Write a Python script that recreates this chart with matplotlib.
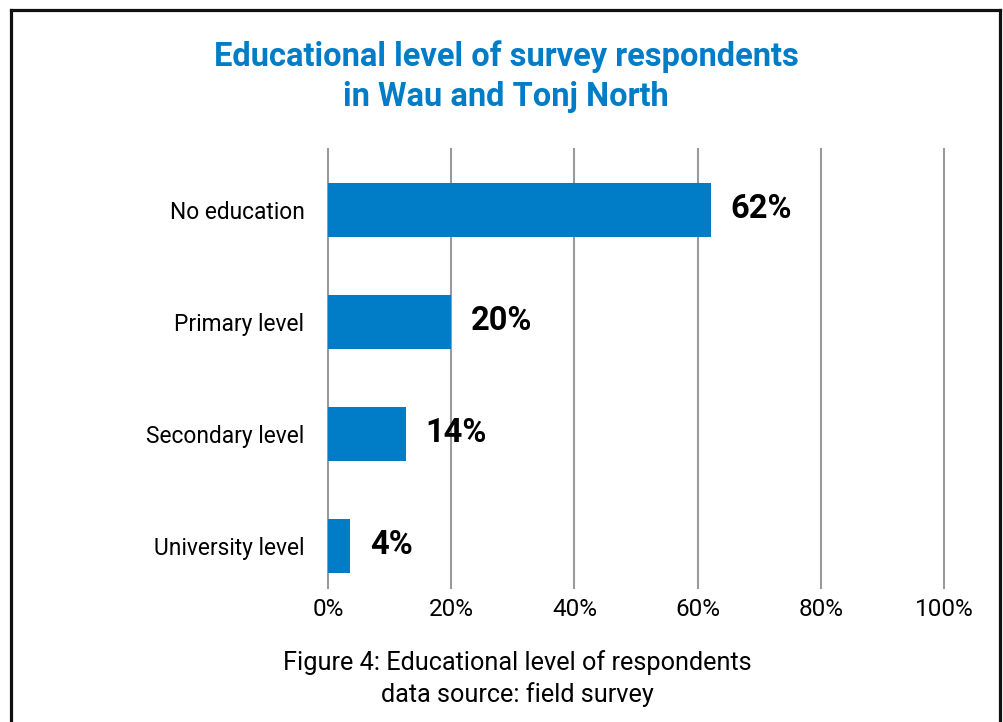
#!/usr/bin/env python3
"""Barra horizontal: nivel educativo de los encuestados (Wau y Tonj North)."""

import matplotlib
matplotlib.use('Agg')
import matplotlib.pyplot as plt
from matplotlib.lines import Line2D

# datos
categories = ['No education', 'Primary level', 'Secondary level', 'University level']
values = [62.2, 20.0, 12.7, 3.6]          # longitud de barra
value_labels = ['62%', '20%', '14%', '4%']  # etiquetas impresas
x_ticks = [0, 20, 40, 60, 80, 100]
x_tick_labels = ['0%', '20%', '40%', '60%', '80%', '100%']

BLUE = '#007dc6'
GRID = '#9a9a9a'

plt.rcParams['font.family'] = ['Roboto', 'DejaVu Sans']

fig = plt.figure(figsize=(10.04, 7.22), dpi=100)
ax = fig.add_axes([0.3267, 0.1856, 0.6135, 0.6080])

ypos = list(range(len(categories)))
ax.barh(ypos, values, height=0.49, color=BLUE, zorder=3)

for y, v, lab in zip(ypos, values, value_labels):
    ax.annotate(lab, (v, y), xytext=(14, 1), textcoords='offset points',
                ha='left', va='center', fontsize=23.5, fontweight='bold',
                color='black', zorder=4)

ax.set_xlim(0, 100)
ax.set_ylim(3.375, -0.545)
ax.set_xticks(x_ticks)
ax.set_xticklabels(x_tick_labels, fontsize=17.5)
ax.set_yticks(ypos)
ax.set_yticklabels(categories, fontsize=16.4)
ax.tick_params(axis='both', length=0, colors='black')
ax.tick_params(axis='x', pad=7)
ax.tick_params(axis='y', pad=17)
ax.xaxis.grid(True, color=GRID, linewidth=1.5, zorder=0)
ax.set_axisbelow(True)
for gl in ax.get_xgridlines():
    gl.set_clip_on(False)
for s in ax.spines.values():
    s.set_visible(False)

# título
fig.text(0.504, 0.921, 'Educational level of survey respondents',
         ha='center', va='center', fontsize=23.5, fontweight='bold', color=BLUE)
fig.text(0.504, 0.866, 'in Wau and Tonj North',
         ha='center', va='center', fontsize=23.5, fontweight='bold', color=BLUE)

# pie de figura
fig.text(0.515, 0.083, 'Figure 4: Educational level of respondents',
         ha='center', va='center', fontsize=18.2, color='black')
fig.text(0.515, 0.038, 'data source: field survey',
         ha='center', va='center', fontsize=18.2, color='black')

# marco (abierto por abajo)
xl, xr, yt = 11.5 / 1004, 1000 / 1004, 1 - 9.5 / 722
for xs, ys in [([xl, xl], [0, yt]), ([xl, xr], [yt, yt]), ([xr, xr], [yt, 0])]:
    fig.add_artist(Line2D(xs, ys, transform=fig.transFigure, color='#111111',
                          linewidth=2.3, solid_capstyle='projecting'))

fig.savefig('out.png', dpi=100)
plt.close(fig)
